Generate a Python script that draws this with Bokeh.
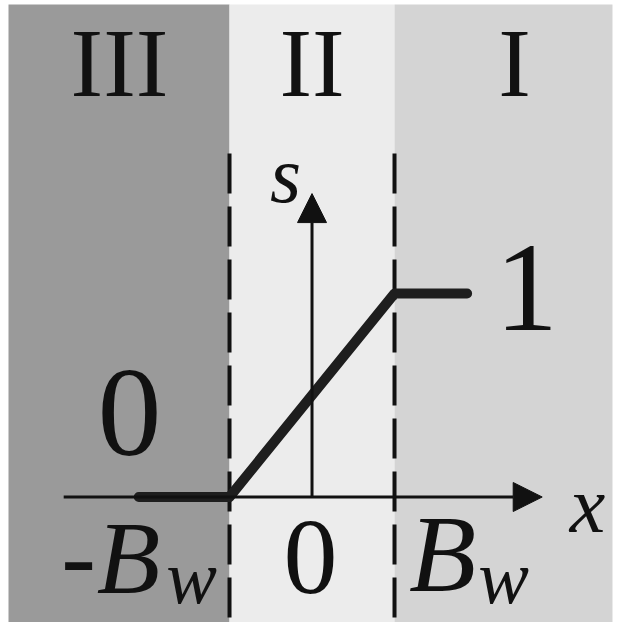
from bokeh.plotting import figure
from bokeh.models import Range1d, Arrow, NormalHead, ColumnDataSource
from bokeh.embed import file_html
from bokeh.resources import INLINE
from bokeh.core.properties import value

# ---- data (x in units of B_w, s dimensionless) ----
region_names = ["III", "II", "I"]
region_left = [-3.679, -1.0, 1.0]
region_right = [-1.0, 1.0, 3.642]
region_colors = ["#9a9a9a", "#ececec", "#d4d4d4"]

boundary_x = [-1.0, 1.0]          # -B_w and B_w

curve_x = [-2.10, -1.0, 1.0, 1.88]  # s(x): 0 below -B_w, ramp, 1 above B_w
curve_s = [0.0, 0.0, 1.0, 1.0]

x_axis_from, x_axis_to = -3.01, 2.79
s_axis_to = 1.491

# text labels
lab_text = ["III", "II", "I", "s", "x", "1", "0", "0", "-", "B", "w", "B", "w"]
lab_x = [-2.333, 0.0, 2.455, -0.321, 3.339, 2.60, -2.212, -0.018, -2.83, -2.224, -1.461, 1.582, 2.321]
lab_y = [1.963, 1.963, 1.963, 1.447, -0.179, 0.808, 0.194, -0.484, -0.474, -0.474, -0.526, -0.469, -0.526]
lab_px = [98, 98, 98, 80, 80, 126, 128, 108, 104, 104, 76, 110, 76]
lab_style = ["normal", "normal", "normal", "italic", "italic", "normal", "normal", "normal", "normal",
             "italic", "italic", "italic", "italic"]

X0, X1 = -3.776, 3.715
Y0, Y1 = -0.6167, 2.4398
REGION_TOP = 2.42
PX_PER_S = 203.5
BASELINE_FIX = 0.35   # renderer draws the alphabetic baseline ~0.35em low

p = figure(width=618, height=622, x_range=Range1d(X0, X1), y_range=Range1d(Y0, Y1),
           output_backend="svg", toolbar_location=None, min_border=0,
           x_axis_type=None, y_axis_type=None)
p.grid.visible = False
p.outline_line_color = None
p.background_fill_color = "white"
p.border_fill_color = "white"

p.quad(left=region_left, right=region_right, bottom=Y0, top=REGION_TOP,
       fill_color=region_colors, line_color=None)

p.segment(x0=boundary_x, y0=1.688, x1=boundary_x, y1=Y0,
          line_color="#111111", line_width=4, line_dash="40 13")

p.add_layout(Arrow(end=NormalHead(size=29, fill_color="#111111", line_color="#111111"),
                   x_start=x_axis_from, y_start=0, x_end=x_axis_to, y_end=0,
                   line_width=3, line_color="#111111"))
p.add_layout(Arrow(end=NormalHead(size=29, fill_color="#111111", line_color="#111111"),
                   x_start=0, y_start=0, x_end=0, y_end=s_axis_to,
                   line_width=3, line_color="#111111"))

p.line(curve_x, curve_s, line_width=10, line_color="#1e1e1e", line_cap="round", line_join="round")

y_adj = [y + BASELINE_FIX * s / PX_PER_S for y, s in zip(lab_y, lab_px)]
src = ColumnDataSource(dict(x=lab_x, y=y_adj, text=lab_text,
                            size=[f"{s}px" for s in lab_px], style=lab_style))
p.text(x="x", y="y", text="text", source=src, text_font=value("Liberation Serif"),
       text_font_size="size", text_font_style="style", text_align="center",
       text_baseline="alphabetic", text_color="#111111")

open("out.html", "w").write(file_html(p, INLINE))
